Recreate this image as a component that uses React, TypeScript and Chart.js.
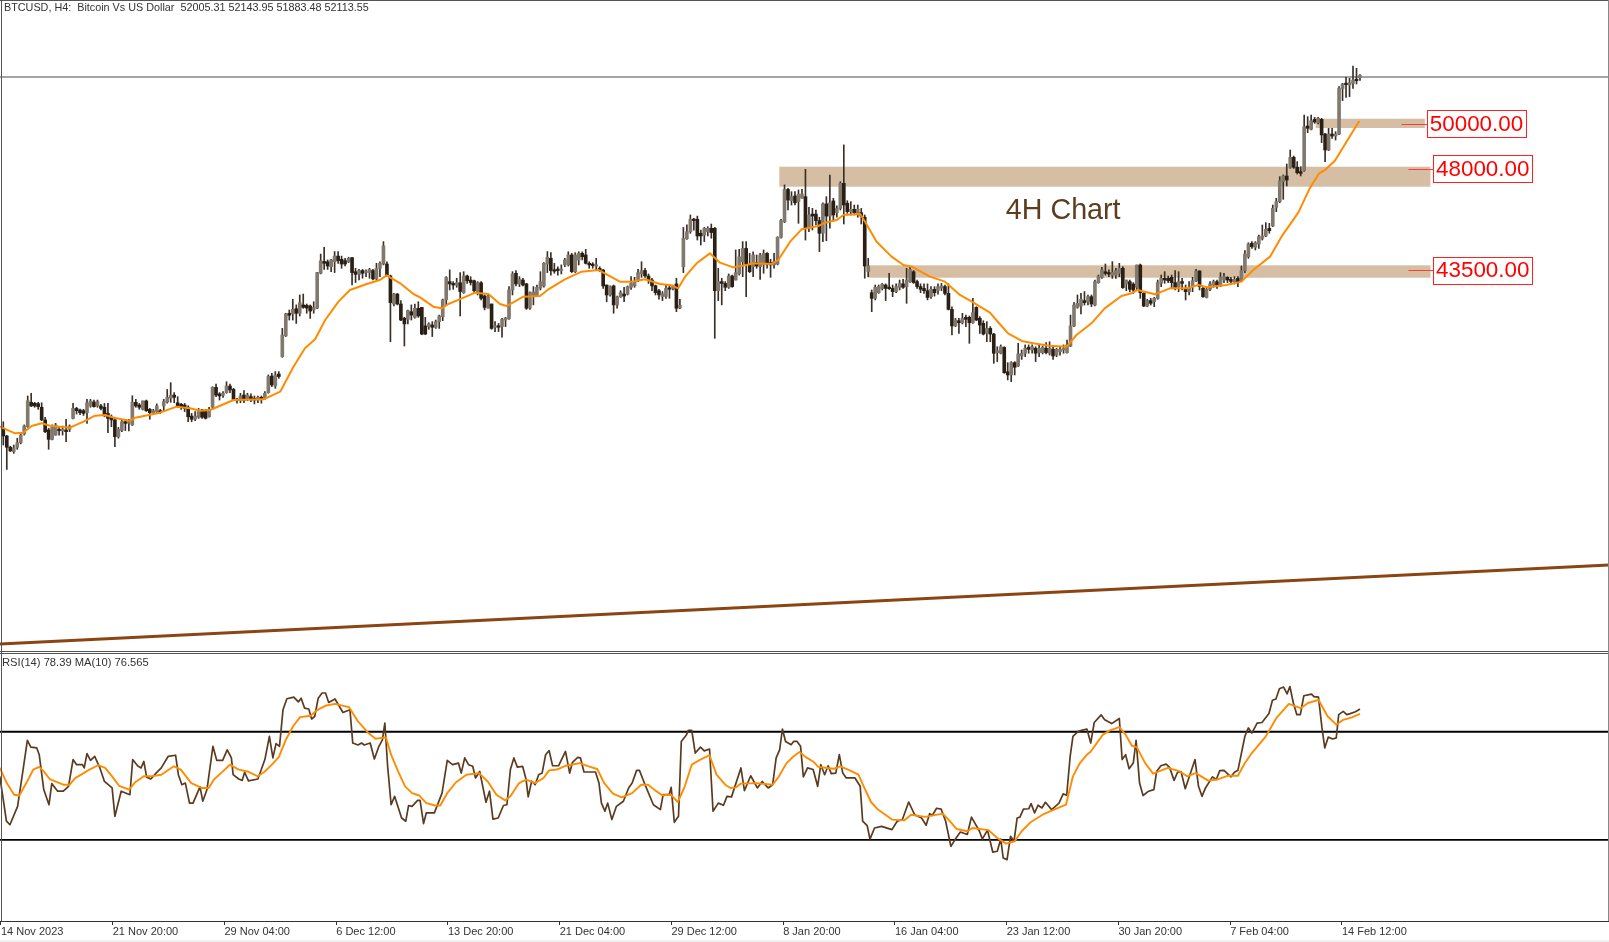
import React, { useEffect, useRef } from "react";
import { Chart, registerables } from "chart.js";

Chart.register(...registerables);

const WIDTH = 1609;

// [open, high, low, close]
const novBars = [
[36490,36780,35750,36150],[36150,36180,34670,35650],[35650,35700,35460,35490],[35460,35750,35380,35630],[35650,36050,35560,35850],[35850,36270,35800,36190],[36240,36640,36190,36590],[36560,37920,36530,37710],[37640,38040,37450,37480],[37595,37640,37420,37480],
[37580,37640,37330,37450],[37420,37620,36830,36860],[36860,36980,36300,36340],[36420,36490,35560,36000],[36000,36640,35970,36560],[36190,36710,36180,36640],[36440,36560,36190,36380],[36380,36590,36190,36440],[36410,36890,35900,36340],[36440,36640,36340,36590],
[36930,37590,36900,37370],[37370,37420,37120,37270],[37300,37340,37090,37180],[37270,37330,37060,37150],[37180,37770,36710,37620],[37480,37770,37420,37700],[37650,37740,37420,37450],[37480,37740,37420,37670],[37480,37550,37300,37370],[37420,37590,37000,37080],
[37150,37590,36300,36930],[36960,37080,36560,36860],[36860,36930,35680,36120],[36120,36530,36050,36440],[36390,36860,36340,36780],[36780,36860,36390,36710],[36710,36890,36370,36780],[36640,37930,36610,37640],[37640,37770,37420,37480],[37520,37590,37330,37420],
[37330,37700,37300,37700],[37700,37740,37230,37270],[37330,37370,36890,37180],[37180,37330,37120,37270],[37230,37570,37180,37480],[37270,37330,37150,37200],[37480,37770,37230,37670],[37650,38210,37600,37860],[37820,38510,37640,37960],[37960,38070,37620,37860],
[37620,37890,37420,37480],[37550,37590,37330,37420],[37520,37590,37230,37370],[37420,37480,36780,37000],[37030,37150,36780,36890],[36890,37230,36830,37030],[36980,37370,36930,37270],[37300,37330,36930,36980],[37230,37330,36900,36930],[37000,37420,36980,37330],
[37420,38330,37330,38300],[38300,38450,37890,37960],[38010,38070,37740,37920],[37950,38110,37860,38040],[38070,38550,38040,38360],[38360,38450,38070,38190],[38210,38260,37710,37770],[37770,37820,37600,37710],[37710,38040,37620,37920],[37960,38160,37620,37740],
[37810,38040,37710,37960],[37890,38010,37670,37770],[37820,37920,37570,37740],[37740,37920,37620,37860],[37860,37920,37600,37770],[37810,38110,37770,38040],
];
const decBars = [
[38070,38850,38040,38780],[38800,38920,38330,38410],[38360,39000,38260,38850],[38890,39000,38700,38780],
[39660,40910,39630,40620],[40580,41580,40550,41550],[41580,41725,41280,41490],[41550,42200,41280,41750],[41780,41950,41130,41580],[41580,42390,41460,42050],[41950,42430,41800,41840],[41930,41990,41580,41810],[41900,41950,41350,41680],[41730,42090,41580,41840],
[41810,43390,41780,43380],[43350,44200,43320,43900],[43870,44500,43520,43790],[43860,43940,43520,43670],[43640,43970,43420,43940],[43860,44310,43380,44110],[44110,44310,43790,43910],[43970,44110,43570,43760],[43910,44010,43670,43760],[43860,44060,43820,44010],
[44040,44060,42830,43380],[43420,43570,42940,43300],[43300,43520,43050,43470],[43470,43520,43130,43350],[43380,43500,43200,43420],[43380,43570,43130,43520],[43470,43520,43050,43100],[43100,43790,43050,43570],[43570,43860,43200,43790],[43760,44750,43720,44560],
[43760,43860,43200,43270],[43230,43270,40320,42050],[41990,42460,41900,42430],[42430,42460,41950,41990],[41990,42140,41250,41280],[41360,41400,40130,41110],[41310,41720,41110,41700],[41650,41950,41280,41500],[41400,41990,41360,41800],[41800,42090,41400,41460],
[41840,41840,40630,40660],[41020,41400,40630,40660],[40990,41160,40870,41110],[41060,41210,40550,40960],[40960,41280,40910,41210],[41210,41500,40910,41460],[41430,42210,41250,42170],[42170,43200,41950,43160],[42980,43500,42610,42880],[42900,42980,42640,42830],
[42820,43130,42730,42930],[42930,43380,41460,42540],[42490,43420,42460,43230],[43230,43270,42900,43020],[43050,43200,42830,42940],[43020,43050,42460,42580],[42490,42980,42390,42930],[42930,42980,42170,42240],[42350,42390,41730,41840],[41810,42370,41800,42320],
[41990,41990,40870,40910],[40960,41210,40770,41020],[41020,41130,40770,40960],[40990,41360,40520,41310],[41280,41400,40990,41370],[41340,42760,41310,42610],[42610,43420,42390,43320],[43350,43470,42790,42880],[42880,43200,42760,43080],[43050,43130,42790,42830],
[42880,42910,41750,41800],[41810,42530,41750,42490],[42310,42760,41950,42520],[42350,42830,42310,42730],[42690,43420,42610,42980],[42790,43820,42730,43790],[43760,44310,43380,44060],[44010,44260,43270,43470],[43490,43790,43350,43440],
[43520,43640,43270,43470],[43470,43720,43320,43520],[43720,44010,43640,43940],[43720,44300,43670,44160],[44160,44230,43380,43420],[43420,44260,43380,44160],[43940,44300,43720,44230],[44230,44300,43940,44080],[44160,44410,43760,43790],[43790,43860,43570,43720],
[43720,43820,43570,43690],[43660,44010,43490,43720],[43570,43640,43420,43470],[43490,43520,42680,42790],[42830,42830,42090,42390],[42390,42790,42340,42760],[42790,42830,41580,41950],[41950,42340,41800,42310],[42310,42580,42280,42490],[42430,42730,42090,42340],
[42430,42790,42390,42760],[42730,43200,42640,42900],[42790,43170,42730,42980],[43050,43520,42980,43380],[43320,43860,43170,43470],[43470,43570,43170,43230],[43230,43320,42900,43050],[43050,43130,42580,42790],[42800,42830,42390,42490],[42580,42640,42200,42390],
[42320,42540,42140,42430],[42320,42830,42240,42680],[42680,42830,42240,42640],[42680,42830,42610,42760],[42880,43130,41650,41800],[41810,42200,41780,41930],
];
const janBars = [
[43640,45380,43380,44900],[44880,45490,44850,45190],[45190,45930,45120,45740],[45740,45780,45260,45680],[45740,45880,44820,45000],[45120,45260,44600,45000],[45040,45380,44750,45340],[45190,45410,45000,45340],[45340,45530,44900,45150],[45340,45380,40470,42580],
[42580,43570,42140,42980],[42980,43130,41950,42900],[42900,42980,42580,42730],[42730,43320,42680,43230],[43230,43270,42730,42760],[43050,44380,43050,43380],[43320,44410,43270,44080],[43860,44750,43200,44450],[44450,44750,42310,43760],[43720,44230,43380,43420],
[43640,44300,43200,44160],[43820,44160,43570,43670],[43640,44230,43080,44160],[43720,44380,43350,44230],[44230,44260,43570,43760],[43820,43970,43170,43720],[43720,44230,43570,43860],[43760,44970,43720,44940],[44940,45740,44900,45680],
[45630,47260,45590,47060],[47060,47110,46150,46590],[46560,46960,46370,46740],[46770,46960,46370,46470],[46520,47035,45560,46850],[46670,47065,46670,46860],[46740,47950,44820,45340],[45340,46270,45190,45930],[45970,46220,45265,45880],[45970,46150,45490,45680],
[45680,45830,44310,45120],[45120,46470,44750,46420],[46420,46740,44790,45880],[45880,47700,45340,46470],[46550,46670,45710,45930],[46030,46330,45830,46220],[46220,47400,46150,47330],[47330,49030,45530,46370],[46450,46560,46000,46080],[46080,46520,45930,46180],
[46180,46370,45930,46030],[46000,46370,45830,46180],[46030,46220,45530,45880],[45830,45930,43130,43670],[43420,44010,43200,43670],[42490,42610,41650,42240],[42240,42830,42170,42730],[42490,42830,42460,42760],[42670,42900,42610,42860],[42830,42880,42140,42680],
[42730,43350,42640,42670],[42680,42830,42315,42540],[42540,42880,42490,42760],[42730,43050,42610,42900],[42880,43080,42680,42730],[42760,43570,42020,43050],[42980,43610,42940,43520],[43420,43470,42900,42940],[42980,43050,42680,42760],[42760,42880,42490,42640],
[42680,42880,42460,42580],[42580,42880,42170,42280],[42315,42760,42240,42640],[42640,42760,42340,42490],[42580,42880,42430,42760],[42700,42900,42580,42790],[42760,42830,42390,42460],[42460,42880,41725,41750],[41750,41870,40620,41020],[41020,41355,40990,41280],
[41250,41355,40690,41160],[41160,41578,41105,41355],[41400,41500,40990,41310],[41400,41460,40250,41160],[41160,42240,41135,41607],[41840,41870,41250,41280],[41355,41430,40690,41060],[41135,41250,40620,40660],[40690,41210,40320,40910],[40910,40990,40320,40660],
[40660,40690,39365,39810],[39840,40100,39440,39925],[39810,40180,39780,40100],[40070,40100,38920,38950],[38990,39395,38630,38850],[38850,39440,38555,39395],[39395,39440,38850,39190],[39250,40250,39220,39780],[39690,39955,39540,39810],[39810,40180,39660,40030],
[40070,40180,39810,39985],[39955,40180,39810,40100],[40030,40100,39440,39810],[39840,40180,39660,40030],[39840,40130,39780,40070],[40030,40280,39780,39840],[39810,40320,39730,40030],[39985,40130,39540,39690],[39730,40030,39660,39985],
[39880,40073,39730,39985],[39955,40180,39810,40030],[39836,40396,39810,40180],[40130,41500,40100,41016],[41016,42050,40990,41945],[41840,42390,41800,42020],[41900,42460,41550,42200],[42140,42540,41945,42050],[42090,42390,41945,42315],[42315,42390,41870,41990],
[41945,43050,41900,42980],[42935,43270,42905,43200],[43170,43615,43125,43500],[43420,43760,43270,43345],[43375,43500,43200,43315],[43270,43865,43125,43390],[43270,43570,43125,43465],[43345,43790,43200,43570],[43570,43640,42680,42715],
];
const febBars = [
[42875,43050,42580,43050],[42980,43050,42535,42640],[42875,42935,42462,42610],[42730,43715,42610,43715],[43715,43760,42240,42492],[42462,42492,41870,41900],[41900,42197,41870,42140],[42140,42240,41945,42020],[42090,42285,41870,42240],[42240,43050,42197,42935],
[42905,43270,42757,43125],[43125,43420,42905,43050],[43125,43230,42935,43020],[43170,43270,42683,42935],[42935,43465,42610,42680],[42757,43420,42535,42980],[42980,43125,42610,42905],[42683,42830,42167,42535],[42535,42980,42390,42727],[42757,43170,42535,43020],
[43020,43525,42980,43450],[43450,43465,42610,42757],[42683,42757,42285,42315],[42285,42727,42255,42640],[42640,42980,42580,42875],[42830,43050,42727,42980],[42980,43050,42683,42787],[42787,43375,42757,43170],[43050,43345,42935,43200],[43170,43200,42935,43050],
[43080,43170,42875,42990],[42980,43200,42875,43080],[43125,43200,42757,42980],[43020,43670,42980,43465],[43465,44350,43375,44200],[44085,44700,44010,44645],[44675,44750,44450,44527],[44497,44750,44380,44700],[44645,45045,44450,44970],[44895,45485,44820,45000],
[45000,45590,44970,45295],[45340,45560,45120,45235],[45440,46370,45412,46225],[46268,46666,46075,46518],[46518,47625,46475,47447],[47403,47700,46622,47654],[47654,48185,47212,47477],[48037,48804,47993,48480],[48480,48540,47990,48040],[48040,48290,47740,47800],
[47845,48065,47655,47770],[47890,50350,47860,49840],[49865,50280,49570,49765],[49720,50350,49690,50100],[50160,50250,49985,50045],[50015,50250,49955,50205],[50160,50205,49130,49470],[49510,49540,48290,48805],[48805,49765,48775,49510],[49510,49765,49320,49425],
[49425,49615,49245,49510],[49510,51607,49480,51530],[51530,51755,50990,51725],[51755,52020,51135,51695],[51680,51975,51165,51785],[51755,52520,51530,51900],[51930,52420,51725,51870],[52005.31,52143.95,51883.48,52113.55],
];
const candles = [...novBars, ...decBars, ...janBars, ...febBars];

const maBars = [-1,3.4,5.7,8.1,11,13.4,19.1,23,26.3,29.2,32.5,36.3,37.8,44.9,49.7,53.5,56.4,59.3,66,74.6,79.4,83.2,86.5,89.4,92.3,96.1,99.4,104.2,108,109.9,113.8,117.6,119.5,123.3,125.7,127.6,131.5,135.3,139.1,142.4,144.3,149.1,153.9,156.3,161,165.8,170.6,176.8,180.2,184,188.3,191.6,193.5,195.5,198.8,202.6,205.5,209.3,213.1,215.1,220.3,222.2,225.6,228.9,233.7,235.6,239,240.9,245.7,247.1,250.4,254.7,258.1,260.5,265.7,270,274.3,277.7,282.9,285.7,288.1,292,295.3,299.9,304.9,307.7,312,315.8,320.6,323.5,325.2,330.2,334.5,339.3,342.6,345,350.7,355,358.4,363.2,366.5,371.3,374.6,377.3,379.2,381.8,388.8];
const maValues = [36562,36267,36296,36592,36710,36606,36518,36783,37049,37078,36930,36827,36960,37181,37447,37373,37270,37300,37742,37772,38110,39217,40028,40427,41282,42093,42610,42875,43052,43258,42905,42433,42285,41872,41798,41990,42240,42491,42433,41990,41900,42315,42344,42640,43082,43421,43495,42978,42978,43082,42875,42816,42683,43200,43790,44232,43819,43612,43716,43790,43760,43937,44748,45294,45442,45589,45707,45928,45972,45633,44748,44085,43716,43642,43200,42978,42389,42093,41607,41105,40692,40353,40250,40147,40102,40618,41135,41798,42344,42462,42610,42418,42683,42683,42831,42728,42831,42979,43495,44085,44970,46032,47108,47772,47949,48333,50088];

const rsiBars = [-1,0.9,1.9,4.1,5.6,6.9,7.9,9.6,10.3,11.6,13.1,13.9,15.6,17.2,18.7,20,21,22.7,23.2,24,25,26.2,27.7,29,31.2,32,33.8,36.3,37.1,38.5,39.5,40.3,41.1,42.3,43.8,45.3,47.3,49.4,50.2,51.2,52.2,53.4,54.4,56.4,57.2,58.4,60.1,61.2,62.9,64.2,65.4,65.9,67.5,68.5,69.2,70.3,73,75,76.3,77.3,78.2,79.2,80.2,81.3,83.3,84.6,85.4,86.4,87.6,88.4,89.3,90.3,91.4,92.4,93.3,95.1,97.4,99.4,100.2,101.7,102.7,103.5,105.2,106.4,107.7,108.7,109.4,110.2,111.2,112.2,114.2,115.4,116.2,117.2,118.8,119.5,120.5,121.3,123.6,125.8,127.3,128.8,130.5,131.3,132.3,133.4,134.6,135.4,136.6,138.4,139.4,140.4,141.9,143.4,144.4,145.4,146.4,147.4,148.9,149.9,150.5,151.5,152.5,153.5,154.5,155.5,156.5,157.5,159.2,161.2,162.4,163.2,164.7,165.5,166.5,169.8,170.8,171.5,172.5,173.3,174.5,175.8,177.8,179.3,180.3,181.6,182.4,184,186.4,188.4,189.2,190.9,191.5,192.4,193.6,194.4,195.9,196.4,197.4,198.4,199.9,201,202.5,203.5,205,206.5,207.5,208.8,211.5,212.5,214.3,216.2,217.6,219.3,220.6,221.6,222.6,223.4,224.3,225.9,226.6,227.6,228.6,229.4,230.6,232.2,233.5,234.4,235.5,236.5,237.4,238.7,239.7,240.7,241.7,244.2,245.7,246.4,247.7,248.5,249.8,251.8,254.8,256.3,257.8,259.6,261.3,263.3,264.6,265.6,266.4,267.6,268.9,270.2,271.7,272.9,274.4,276.4,277.6,279.9,280.7,282.2,283.7,285,286,286.7,287.8,288.8,289.8,290.7,291.5,292.5,294,294.7,295.7,296.7,297.8,298.8,300.6,302.7,303.9,304.9,305.9,306.7,308.2,309.2,310.7,311.8,312.8,314.8,315.8,317.8,320,320.8,321.8,322.8,324,324.8,325.8,326.8,328.4,329.9,330.7,331.9,333.4,334.4,335.7,336.7,337.7,338.9,341.7,342.7,343.7,344.7,346.7,347.8,348.8,350,352,353,354,356,357,358,359.5,360.9,362.9,363.9,364.9,365.9,367.1,368.1,368.9,369.9,370.9,371.9,372.9,375.1,375.8,377.1,378.1,378.9,379.9,381.2,382.2,382.9,384.2,385.2,386.2,387.7,389];
const rsiValues = [53.5,36.9,35.6,42.4,55.3,66.8,64.3,64,61.5,48.6,43,50.8,48,48,49.8,59.7,57.8,57.8,56.6,61.9,59.4,60.9,56.6,51.6,49.2,38.7,48,46.7,59.7,57.4,56.6,59,53.2,52.5,54.7,56.6,60.9,61.3,54.1,50.4,51,43.6,43.6,49.6,44.3,48.6,64.6,59.4,59.4,63.3,60.3,54.1,52.5,52,55,51.8,52.5,59.7,68.3,60.3,65.6,64.6,78.1,82.2,82.8,81,82.4,78.7,78.4,74.7,75.7,82.4,84.3,84.3,80.8,82.1,77.1,78.1,65.8,65.1,65.8,65.1,65.8,59.9,64.6,67,73.2,57.2,43,46.1,38.1,36.9,42.7,42.4,44.6,44.6,36,40,40,47.3,59.4,57.8,58.4,54.7,60.3,57.8,57.2,52.9,55.3,43.9,48,37.7,38.1,42.7,43,56,60.3,56.9,57.2,52.3,45.9,51.7,50.4,54.1,54.7,61.5,63,57.4,57.4,62.7,54.7,58.7,60.5,60.3,55.1,55.1,51,43.6,40.6,43.6,37.5,42.4,44.3,49.2,51,55.7,55.7,50.4,43,41.2,46.7,46.7,49.4,36.5,38.7,66.4,68.9,70.5,70.5,62.1,64.3,62.9,63.6,40.6,43.6,42.8,46.1,45.9,56.6,48.2,53.7,49.2,51.6,49.2,50.4,60.3,63.3,71,66.4,65.2,66.4,66.4,64.6,53.3,56.6,56,49.8,57.8,54.1,57.4,54.5,54.7,61.5,54.7,52.9,52.9,49.8,36.9,35.3,30.3,34.4,35,33.8,36.9,37.5,44,39.3,38.1,35.4,39.7,39.1,41.7,41.4,36.9,27.6,30.1,32.9,32,38.4,33.2,30.3,33.6,25.5,25.8,30.3,23.3,22.7,31.3,29.5,38.1,38.4,41.4,41.5,43.4,40,42.8,41.8,43.9,41.2,43.6,47,46.5,60.9,68.3,70.1,70.5,71,65.8,73.4,76.2,74.4,73,74.9,59.7,61.5,56.3,58.4,66.8,51,46.4,48,48.6,55.3,57.4,58,56.8,52,55,55.2,48.9,59.7,49.8,46.1,49.2,53.3,52.3,55.6,55.7,53.3,55,55.7,68.3,71.4,69.5,73.2,73.4,76.7,81.6,82.1,85.9,86.5,84,86.7,80.6,76.3,76.3,83.3,83.9,83,82.8,71.4,64,68,67.3,67.7,76.3,77.5,76.3,76.7,77.4,78.39];

const rsiMaBars = [-1,1,3.1,4.6,6.6,8.6,10.3,11.6,13.3,15.6,17.2,19,20.7,22.7,24.7,27.2,29.2,31.2,33.2,36.1,37.8,40.3,42.3,45.3,48.9,50.9,53.9,56.9,58.9,60.4,62.4,65,67.5,70,73,75,77,79,81,83.1,85.1,88.1,90.1,92.6,95.1,99.1,101.7,104.7,106.7,109.7,111.2,113.2,115.2,117.2,119.3,121.3,123.8,125.3,127.3,129.8,132.8,136.4,138.9,141.4,143.9,145.4,147.9,149.9,152.5,154.9,156.5,158.7,161.2,165.3,167.8,170.3,172.3,174.8,177.3,180.3,182.9,184.9,186.9,188.9,191.4,193.4,195.4,197.4,199.9,202.5,204.5,207,208.5,210,211.5,216,220.6,222.1,224.6,226.6,228.3,230.1,232.2,233.7,236.2,238.2,240,242.7,245.2,246.7,248.8,250.8,254.8,258.3,260.3,264.3,269.4,271.4,273.4,276.4,277.9,282.5,285,287.5,290,292,294.5,298,300.6,304.7,306.7,308.7,310.7,311.8,315.3,317.3,320,321.8,323.6,325,327.4,329.7,331.9,333.9,337.4,339.4,341.9,345.5,348,351,354,356,358,362,365,368.6,372,374.1,377.1,379.7,382.2,384.2,386.7,389];
const rsiMaValues = [56.6,51,46.7,46.4,51,56,57,55.3,52.5,51.3,50.4,50.4,52.9,54.4,56,57.6,56.6,53.5,50,48.6,51.3,53.5,53.5,54.1,57.2,56,51,49.2,49.2,52.3,54.7,57.8,56,55.3,53.5,55.3,57.8,60.6,67,72,75.4,75.9,78.1,79.7,80.3,79.1,73.8,69.5,67.4,67.9,61.5,55.3,49.8,47.3,46.4,43.6,42.7,42.7,47.3,51.3,54.1,54.7,51.6,46.7,44.6,46.1,51,52.3,51,52.9,55.7,56,57.4,58.4,57.2,56.2,51,47.1,45.7,47.3,50.4,50.4,48.3,46.5,46.7,44,49.8,57.8,59.7,61.3,54.1,50.4,49.2,49.4,50.8,51,50.4,52.9,58.4,60.9,62.5,60.6,59,57,56.6,56.3,57.2,55.7,54.1,49.8,44,41.2,37.5,37.2,39.3,38.5,39.7,36.9,34,33.2,34.4,33.6,30.7,28.6,29.5,33.2,36.5,39.3,40.8,43,53.5,58.4,61.5,62.7,68.9,70.5,71.7,68.9,64.8,64.3,58.4,54.5,55.6,56.6,55.3,53.5,54.7,51.9,52.3,53.7,53.7,58.4,62.1,68.3,75,80.3,78.7,80.6,81.8,75.7,72.6,74.4,75.3,76.565];

const rsiLevels = [70, 30];
const tickBars = [-0.66,31.38,63.42,95.46,127.5,159.54,191.58,223.62,255.66,287.7,319.74,351.78,383.82];
const timeLabels = ["14 Nov 2023","21 Nov 20:00","29 Nov 04:00","6 Dec 12:00","13 Dec 20:00","21 Dec 04:00","29 Dec 12:00","8 Jan 20:00","16 Jan 04:00","23 Jan 12:00","30 Jan 20:00","7 Feb 04:00","14 Feb 12:00"];

const priceLine = 52035;
const trendFrom = 26945;
const trendTo = 30441;
const X_MIN = -0.946;
const X_MAX = 460.4;
const Y_MIN = 26635;
const Y_MAX = 55442;

const zones = [
  { from: 222.5, to: 409.2, top: 48065, bottom: 47180 },
  { from: 247.8, to: 409.2, top: 43702, bottom: 43153 },
  { from: 376.3, to: 407.6, top: 50189, bottom: 49778 },
];
const levelTags = [
  { text: "50000.00", price: 49960, leadFrom: 400.9, boxFrom: 408.2, boxTo: 436.6 },
  { text: "48000.00", price: 47970, leadFrom: 402.9, boxFrom: 410, boxTo: 438.4 },
  { text: "43500.00", price: 43480, leadFrom: 402.9, boxFrom: 410, boxTo: 438.4 },
];
const chartNote = { text: "4H Chart", bar: 303.9, price: 46115 };
const titleText = "BTCUSD, H4:  Bitcoin Vs US Dollar  52005.31 52143.95 51883.48 52113.55";
const rsiText = "RSI(14) 78.39 MA(10) 76.565";

const UP = "#81786e";
const DOWN = "#2a1f15";
const WICK = "#3a3027";
const ORANGE = "#ff8c00";
const RSI_BROWN = "#5b3b20";
const ZONE = "#d6bea4";
const TEXT = "#333333";

const xy = (xs: number[], ys: number[]) => xs.map((x, i) => ({ x, y: ys[i] }));

const mainPlugin = {
  id: "mainMarks",
  beforeDatasetsDraw(chart: any) {
    const { ctx, scales } = chart;
    const { x, y } = scales;
    ctx.save();
    ctx.fillStyle = ZONE;
    zones.forEach((z) => {
      const l = x.getPixelForValue(z.from);
      const r = x.getPixelForValue(z.to);
      const t = y.getPixelForValue(z.top);
      const b = y.getPixelForValue(z.bottom);
      ctx.fillRect(l, t, r - l, b - t);
    });
    ctx.restore();
  },
  afterDatasetsDraw(chart: any) {
    const { ctx, scales } = chart;
    const { x, y } = scales;
    ctx.save();
    levelTags.forEach((tag) => {
      const ly = y.getPixelForValue(tag.price);
      const lf = x.getPixelForValue(tag.leadFrom);
      const l = x.getPixelForValue(tag.boxFrom);
      const r = x.getPixelForValue(tag.boxTo);
      ctx.strokeStyle = "#ff3b3b";
      ctx.lineWidth = 1;
      ctx.beginPath();
      ctx.moveTo(lf, Math.round(ly) + 0.5);
      ctx.lineTo(l, Math.round(ly) + 0.5);
      ctx.stroke();
      const bh = 27;
      const top = Math.round(ly - 13.5);
      ctx.fillStyle = "#ffffff";
      ctx.fillRect(l, top, r - l, bh);
      ctx.strokeStyle = "#ff2020";
      ctx.strokeRect(Math.round(l) + 0.5, top + 0.5, Math.round(r - l), bh);
      ctx.fillStyle = "#ff0000";
      ctx.font = '22.4px "Liberation Sans"';
      ctx.textAlign = "center";
      ctx.textBaseline = "middle";
      ctx.fillText(tag.text, (l + r) / 2, ly + 1);
    });
    ctx.fillStyle = "#5c3d1e";
    ctx.font = '28.7px "Liberation Sans"';
    ctx.textAlign = "center";
    ctx.textBaseline = "middle";
    ctx.fillText(chartNote.text, x.getPixelForValue(chartNote.bar), y.getPixelForValue(chartNote.price));
    ctx.fillStyle = TEXT;
    ctx.font = '10.8px "Liberation Sans"';
    ctx.textAlign = "left";
    ctx.fillText(titleText, 4, 8.5);
    ctx.restore();
  },
};

const rsiPlugin = {
  id: "rsiMarks",
  afterDatasetsDraw(chart: any) {
    const { ctx } = chart;
    ctx.save();
    ctx.fillStyle = TEXT;
    ctx.font = '11.2px "Liberation Sans"';
    ctx.textAlign = "left";
    ctx.textBaseline = "middle";
    ctx.fillText(rsiText, 2, 10);
    ctx.restore();
  },
};

const lineStyle = { pointRadius: 0, tension: 0, fill: false, borderJoinStyle: "round" as const };

export default function App() {
  const mainRef = useRef<HTMLCanvasElement>(null);
  const rsiRef = useRef<HTMLCanvasElement>(null);

  useEffect(() => {
    const barColors = candles.map((c) => (c[3] >= c[0] ? UP : DOWN));
    const main = new Chart(mainRef.current!, {
      type: "bar",
      data: {
        datasets: [
          {
            type: "line",
            data: [{ x: X_MIN, y: priceLine }, { x: X_MAX, y: priceLine }],
            borderColor: "#4a4a4a",
            borderWidth: 1.2,
            order: 5,
            ...lineStyle,
          },
          {
            type: "bar",
            data: candles.map((c, i) => ({ x: i, y: [c[2], c[1]] })),
            backgroundColor: WICK,
            barThickness: 1,
            grouped: false,
            order: 3,
          },
          {
            type: "bar",
            data: candles.map((c, i) => ({ x: i, y: [c[0], c[3]] })),
            backgroundColor: barColors,
            barThickness: 3,
            minBarLength: 1.5,
            grouped: false,
            order: 2,
          },
          {
            type: "line",
            data: xy(maBars, maValues),
            borderColor: ORANGE,
            borderWidth: 2,
            order: 1,
            ...lineStyle,
          },
          {
            type: "line",
            data: [{ x: X_MIN, y: trendFrom }, { x: X_MAX, y: trendTo }],
            borderColor: "#8b4513",
            borderWidth: 2.8,
            order: 1,
            ...lineStyle,
          },
        ],
      } as any,
      options: {
        responsive: false,
        animation: false,
        devicePixelRatio: 1,
        layout: { padding: 0 },
        plugins: { legend: { display: false }, tooltip: { enabled: false }, title: { display: false } },
        scales: {
          x: { type: "linear", min: X_MIN, max: X_MAX, display: false, offset: false },
          y: { type: "linear", min: Y_MIN, max: Y_MAX, display: false },
        },
      } as any,
      plugins: [mainPlugin],
    });

    const rsi = new Chart(rsiRef.current!, {
      type: "line",
      data: {
        datasets: [
          ...rsiLevels.map((lv) => ({
            data: [{ x: X_MIN, y: lv }, { x: X_MAX, y: lv }],
            borderColor: "#000000",
            borderWidth: 1.9,
            order: 3,
            ...lineStyle,
          })),
          { data: xy(rsiBars, rsiValues), borderColor: RSI_BROWN, borderWidth: 1.7, order: 2, ...lineStyle },
          { data: xy(rsiMaBars, rsiMaValues), borderColor: ORANGE, borderWidth: 1.9, order: 1, ...lineStyle },
        ],
      },
      options: {
        responsive: false,
        animation: false,
        devicePixelRatio: 1,
        layout: { padding: 0 },
        plugins: { legend: { display: false }, tooltip: { enabled: false }, title: { display: false } },
        scales: {
          x: {
            type: "linear",
            min: X_MIN,
            max: X_MAX,
            afterBuildTicks: (axis: any) => {
              axis.ticks = tickBars.map((value) => ({ value }));
            },
            afterFit: (axis: any) => {
              axis.height = 21;
            },
            grid: { display: true, drawOnChartArea: false, drawTicks: true, tickLength: 4, tickColor: "#333333" },
            border: { display: false },
            ticks: {
              autoSkip: false,
              maxRotation: 0,
              minRotation: 0,
              align: "start",
              padding: 0,
              color: TEXT,
              font: { family: "Liberation Sans", size: 11 },
              callback: (_v: any, idx: number) => timeLabels[idx],
            },
          },
          y: { type: "linear", min: 0, max: 99.1, display: false },
        },
      } as any,
      plugins: [rsiPlugin],
    });

    return () => {
      main.destroy();
      rsi.destroy();
    };
  }, []);

  const rule = (style: React.CSSProperties) => (
    <div style={{ position: "absolute", background: "#555555", ...style }} />
  );

  return (
    <div style={{ position: "fixed", left: 0, top: 0, width: WIDTH, height: 942, background: "#ffffff", overflow: "hidden" }}>
      <canvas ref={mainRef} width={WIDTH} height={651} style={{ position: "absolute", left: 0, top: 0, width: WIDTH, height: 651 }} />
      <canvas ref={rsiRef} width={WIDTH} height={289} style={{ position: "absolute", left: 0, top: 653, width: WIDTH, height: 289 }} />
      {rule({ left: 0, top: 0, width: WIDTH, height: 1 })}
      {rule({ left: 1, top: 0, width: 1, height: 921 })}
      {rule({ left: 0, top: 651, width: WIDTH, height: 1 })}
      {rule({ left: 0, top: 653, width: WIDTH, height: 1 })}
      {rule({ left: 0, top: 921, width: WIDTH, height: 1, background: "#333333" })}
      {rule({ left: 1608, top: 0, width: 1, height: 921, background: "#888888" })}
      {rule({ left: 0, top: 940, width: WIDTH, height: 2, background: "#f0f0f0" })}
    </div>
  );
}
